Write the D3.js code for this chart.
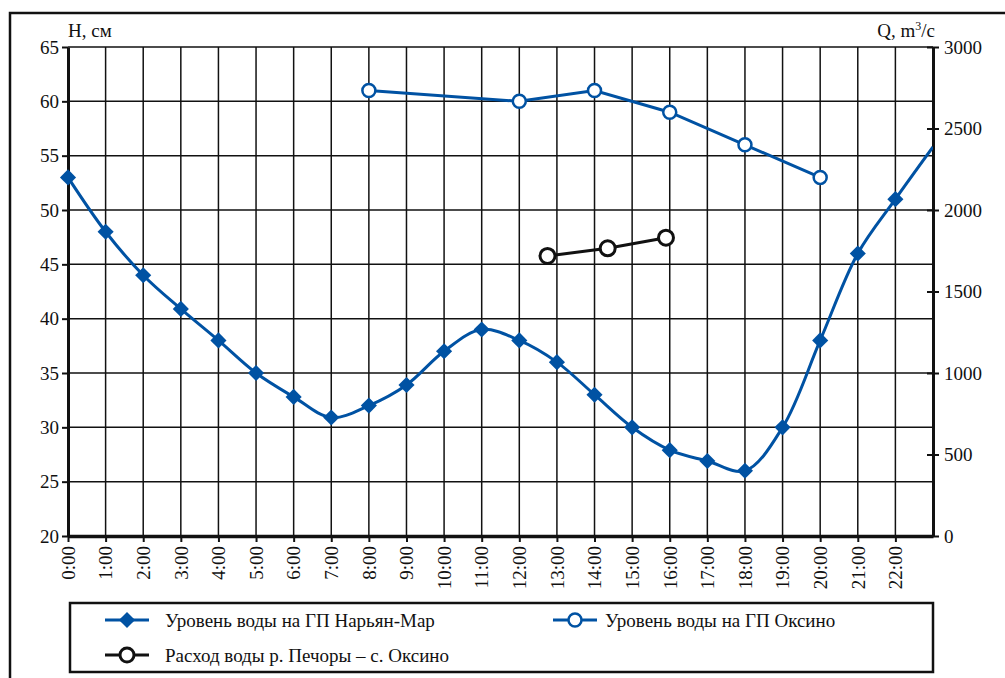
<!DOCTYPE html>
<html lang="ru">
<head>
<meta charset="UTF-8">
<title>Уровень воды</title>
<script src="https://cdn.jsdelivr.net/npm/d3@7/dist/d3.min.js"></script>
<style>
  body { margin: 0; background: #fff; }
  .grid line { stroke: #111; stroke-width: 1.5; }
  .axis path, .axis line { stroke: #111; }
</style>
</head>
<body>
<div id="chart"></div>
<script>
// --- data ---
var timeLabels = ["0:00","1:00","2:00","3:00","4:00","5:00","6:00","7:00","8:00","9:00","10:00",
  "11:00","12:00","13:00","14:00","15:00","16:00","17:00","18:00","19:00","20:00","21:00","22:00"];

// Нарьян-Мар, H (cm), hourly
var nmHours = [0,1,2,3,4,5,6,7,8,9,10,11,12,13,14,15,16,17,18,19,20,21,22,23];
var nmLevel = [53,48,44,40.9,38,35,32.8,30.9,32,33.9,37,39,38,36,33,30,27.9,26.9,26,30,38,46,51,55.8];

// Оксино, H (cm)
var oxHours = [8,12,14,16,18,20];
var oxLevel = [61,60,61,59,56,53];

// Расход воды, Q (m3/s)
var qHours = [12.75,14.35,15.9];
var qFlow  = [1718,1765,1830];

var hTicks = [20,25,30,35,40,45,50,55,60,65];
var qTicks = [0,500,1000,1500,2000,2500,3000];

var legendItems = [
  {label: "Уровень воды на ГП Нарьян-Мар", kind: "diamond"},
  {label: "Уровень воды на ГП Оксино", kind: "blueCircle"},
  {label: "Расход воды р. Печоры – с. Оксино", kind: "blackCircle"}
];

var blue = "#0052a3";
var serif = "'Liberation Serif', 'Times New Roman', 'DejaVu Serif', serif";
var width = 1005, height = 678;

var svg = d3.select("#chart").append("svg")
    .attr("width", width)
    .attr("height", height)
    .style("font-family", serif);

// outer frame (runs off the right/bottom edge)
svg.append("rect")
    .attr("x", 10).attr("y", 13)
    .attr("width", 1010).attr("height", 700)
    .attr("fill", "none").attr("stroke", "#111").attr("stroke-width", 2.5);

var x = d3.scaleLinear().domain([0, 23]).range([68, 933]);
var yH = d3.scaleLinear().domain([20, 65]).range([536, 47]);
var yQ = d3.scaleLinear().domain([0, 3000]).range([536, 47]);

// grid
var grid = svg.append("g").attr("class", "grid");
grid.selectAll(".vg").data(d3.range(1, 23))
  .enter().append("line")
    .attr("x1", d => x(d)).attr("x2", d => x(d))
    .attr("y1", yH(65)).attr("y2", yH(20));
grid.selectAll(".hg").data(hTicks.slice(1))
  .enter().append("line")
    .attr("x1", x(0)).attr("x2", x(23))
    .attr("y1", d => yH(d)).attr("y2", d => yH(d));

function styleText(sel) {
  sel.style("font-family", serif).style("font-size", "19px").attr("fill", "#111");
}

// left axis
var leftAxis = svg.append("g").attr("class", "axis")
    .attr("transform", "translate(" + x(0) + ",0)")
    .call(d3.axisLeft(yH).tickValues(hTicks).tickSize(6).tickSizeOuter(0).tickPadding(3));
leftAxis.select(".domain").attr("stroke-width", 3);
leftAxis.selectAll(".tick line").attr("stroke-width", 2);
styleText(leftAxis.selectAll("text"));

// right axis
var rightAxis = svg.append("g").attr("class", "axis")
    .attr("transform", "translate(" + x(23) + ",0)")
    .call(d3.axisRight(yQ).tickValues(qTicks).tickFormat(d3.format("d"))
      .tickSize(6).tickSizeOuter(0).tickPadding(5));
rightAxis.select(".domain").attr("stroke-width", 3);
rightAxis.selectAll(".tick line").attr("x1", -6).attr("stroke-width", 2);
styleText(rightAxis.selectAll("text"));

// bottom axis
var bottomAxis = svg.append("g").attr("class", "axis")
    .attr("transform", "translate(0," + yH(20) + ")")
    .call(d3.axisBottom(x).tickValues(d3.range(0, 23)).tickFormat(d => timeLabels[d])
      .tickSize(6).tickSizeOuter(0));
bottomAxis.select(".domain").attr("stroke-width", 3.5);
bottomAxis.selectAll(".tick line").attr("stroke-width", 2);
styleText(bottomAxis.selectAll("text"));
bottomAxis.selectAll("text")
    .attr("text-anchor", "end")
    .attr("transform", "rotate(-90)")
    .attr("x", -10).attr("y", 0).attr("dy", "0.33em");

// axis titles
svg.append("text").attr("x", 68).attr("y", 37).style("font-size", "19px").attr("fill", "#111").text("H, см");
var qt = svg.append("text").attr("x", 935).attr("y", 37).attr("text-anchor", "end")
    .style("font-size", "19px").attr("fill", "#111");
qt.append("tspan").text("Q, m");
qt.append("tspan").attr("dy", -7).style("font-size", "12px").text("3");
qt.append("tspan").attr("dy", 7).text("/c");

// clip for lines
svg.append("clipPath").attr("id", "plot")
  .append("rect").attr("x", x(0)).attr("y", yH(65)).attr("width", x(23) - x(0)).attr("height", yH(20) - yH(65));

var diamond = d3.symbol().type(d3.symbolSquare).size(130);

// Нарьян-Мар
var nm = nmHours.map((h, i) => [h, nmLevel[i]]);
svg.append("path").datum(nm)
    .attr("clip-path", "url(#plot)")
    .attr("fill", "none").attr("stroke", blue).attr("stroke-width", 3)
    .attr("d", d3.line().x(d => x(d[0])).y(d => yH(d[1])).curve(d3.curveCatmullRom.alpha(0.5)));
svg.selectAll(".nm").data(nm.filter(d => d[0] < 23))
  .enter().append("path")
    .attr("class", "nm")
    .attr("d", diamond)
    .attr("transform", d => "translate(" + x(d[0]) + "," + yH(d[1]) + ") rotate(45)")
    .attr("fill", blue);

// Оксино
var ox = oxHours.map((h, i) => [h, oxLevel[i]]);
svg.append("path").datum(ox)
    .attr("fill", "none").attr("stroke", blue).attr("stroke-width", 3)
    .attr("d", d3.line().x(d => x(d[0])).y(d => yH(d[1])));
svg.selectAll(".ox").data(ox)
  .enter().append("circle")
    .attr("cx", d => x(d[0])).attr("cy", d => yH(d[1])).attr("r", 6.5)
    .attr("fill", "#fff").attr("stroke", blue).attr("stroke-width", 2.5);

// Расход
var q = qHours.map((h, i) => [h, qFlow[i]]);
svg.append("path").datum(q)
    .attr("fill", "none").attr("stroke", "#111").attr("stroke-width", 3)
    .attr("d", d3.line().x(d => x(d[0])).y(d => yQ(d[1])));
svg.selectAll(".qf").data(q)
  .enter().append("circle")
    .attr("cx", d => x(d[0])).attr("cy", d => yQ(d[1])).attr("r", 7.5)
    .attr("fill", "#fff").attr("stroke", "#111").attr("stroke-width", 3);

// legend
var lg = svg.append("g");
lg.append("rect").attr("x", 70).attr("y", 603).attr("width", 863).attr("height", 69)
    .attr("fill", "#fff").attr("stroke", "#111").attr("stroke-width", 2.5);
var legendPos = [[105, 620, 60], [553, 620, 52], [105, 655, 60]];
legendItems.forEach(function(item, i) {
  var p = legendPos[i];
  var col = item.kind === "blackCircle" ? "#111" : blue;
  lg.append("line").attr("x1", p[0]).attr("x2", p[0] + 44).attr("y1", p[1]).attr("y2", p[1])
      .attr("stroke", col).attr("stroke-width", 3);
  if (item.kind === "diamond") {
    lg.append("path").attr("d", diamond)
      .attr("transform", "translate(" + (p[0] + 22) + "," + p[1] + ") rotate(45)").attr("fill", blue);
  } else {
    lg.append("circle").attr("cx", p[0] + 22).attr("cy", p[1]).attr("r", item.kind === "blackCircle" ? 7 : 6.5)
      .attr("fill", "#fff").attr("stroke", col).attr("stroke-width", item.kind === "blackCircle" ? 3 : 2.5);
  }
  lg.append("text").attr("x", p[0] + p[2]).attr("y", p[1]).attr("dy", "0.35em")
      .style("font-size", "19px").attr("fill", "#111").text(item.label);
});
</script>
</body>
</html>
